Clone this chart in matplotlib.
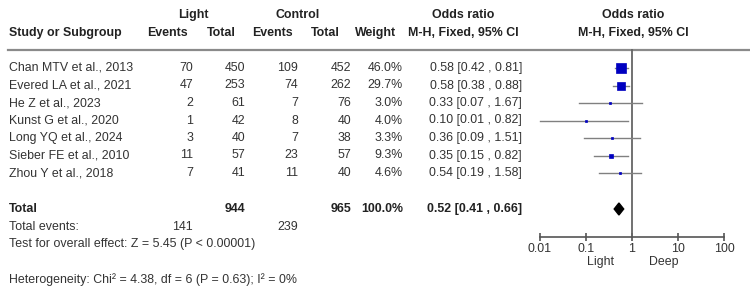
import numpy as np
import matplotlib
matplotlib.use("Agg")
from matplotlib import pyplot as plt
from matplotlib.patches import Polygon

plt.rcParams['font.family'] = ['Liberation Sans', 'DejaVu Sans']

# study data
studies = ["Chan MTV et al., 2013", "Evered LA et al., 2021", "He Z et al., 2023",
           "Kunst G et al., 2020", "Long YQ et al., 2024", "Sieber FE et al., 2010",
           "Zhou Y et al., 2018"]
light_events = [70, 47, 2, 1, 3, 11, 7]
light_total = [450, 253, 61, 42, 40, 57, 41]
ctrl_events = [109, 74, 7, 8, 7, 23, 11]
ctrl_total = [452, 262, 76, 40, 38, 57, 40]
weights = [46.0, 29.7, 3.0, 4.0, 3.3, 9.3, 4.6]
odds = [0.58, 0.58, 0.33, 0.10, 0.36, 0.35, 0.54]
ci_low = [0.42, 0.38, 0.07, 0.01, 0.09, 0.15, 0.19]
ci_high = [0.81, 0.88, 1.67, 0.82, 1.51, 0.82, 1.58]

total_light, total_ctrl = 944, 965
events_light, events_ctrl = 141, 239
pooled = (0.52, 0.41, 0.66)
ticks = [0.01, 0.1, 1, 10, 100]
tick_labels = ["0.01", "0.1", "1", "10", "100"]

txt = '#333333'
fs = 8.9

fig = plt.figure(figsize=(7.5, 2.99), dpi=100)
ax = fig.add_axes([0, 0, 1, 1])
ax.set_xlim(0, 750)
ax.set_ylim(299, 0)
ax.axis('off')

# headers
hb = dict(fontsize=fs, fontweight='bold', color='#222222', va='center', ha='center')
ax.text(193, 15, "Light", **hb)
ax.text(298, 15, "Control", **hb)
ax.text(463, 15, "Odds ratio", **hb)
ax.text(633, 15, "Odds ratio", **hb)
ax.text(9, 33, "Study or Subgroup", fontsize=fs, fontweight='bold', color='#222222', va='center', ha='left')
ax.text(167, 33, "Events", **hb)
ax.text(221, 33, "Total", **hb)
ax.text(272, 33, "Events", **hb)
ax.text(325, 33, "Total", **hb)
ax.text(376, 33, "Weight", **hb)
ax.text(463, 33, "M-H, Fixed, 95% CI", **hb)
ax.text(633, 33, "M-H, Fixed, 95% CI", **hb)
ax.plot([8, 750], [50, 50], color='#8a8a8a', lw=1.6)

row_y = 68 + 17.5 * np.arange(len(studies))
tr = dict(fontsize=fs, color=txt, va='center', ha='right')
for i, y in enumerate(row_y):
    ax.text(9, y, studies[i], fontsize=fs, color=txt, va='center', ha='left')
    ax.text(193, y, str(light_events[i]), **tr)
    ax.text(245, y, str(light_total[i]), **tr)
    ax.text(298, y, str(ctrl_events[i]), **tr)
    ax.text(351, y, str(ctrl_total[i]), **tr)
    ax.text(403, y, f"{weights[i]:.1f}%", **tr)
    ax.text(522, y, f"{odds[i]:.2f} [{ci_low[i]:.2f} , {ci_high[i]:.2f}]", **tr)

ty = 209
bb = dict(fontsize=fs, fontweight='bold', color='#222222', va='center', ha='right')
ax.text(9, ty, "Total", fontsize=fs, fontweight='bold', color='#222222', va='center', ha='left')
ax.text(245, ty, str(total_light), **bb)
ax.text(351, ty, str(total_ctrl), **bb)
ax.text(403, ty, "100.0%", **bb)
ax.text(522, ty, f"{pooled[0]:.2f} [{pooled[1]:.2f} , {pooled[2]:.2f}]", **bb)
ax.text(9, 227, "Total events:", fontsize=fs, color=txt, va='center', ha='left')
ax.text(193, 227, str(events_light), **tr)
ax.text(298, 227, str(events_ctrl), **tr)
ax.text(9, 244, "Test for overall effect: Z = 5.45 (P < 0.00001)", fontsize=fs, color=txt, va='center', ha='left')
ax.text(9, 280, "Heterogeneity: Chi\u00b2 = 4.38, df = 6 (P = 0.63); I\u00b2 = 0%", fontsize=fs, color=txt, va='center', ha='left')
ax.text(601, 262, "Light", fontsize=fs, color=txt, va='center', ha='center')
ax.text(664, 262, "Deep", fontsize=fs, color=txt, va='center', ha='center')

# forest panel
fx = fig.add_axes([540 / 750, 0, 184 / 750, 1])
fx.set_xscale('log')
fx.set_xlim(0.01, 100)
fx.set_ylim(299, 0)
fx.patch.set_alpha(0)
for s in ['left', 'right', 'top']:
    fx.spines[s].set_visible(False)
fx.spines['bottom'].set_position(('data', 237))
fx.spines['bottom'].set_color('#555555')
fx.spines['bottom'].set_linewidth(1.2)
fx.set_yticks([])
fx.set_xticks(ticks)
fx.set_xticklabels(tick_labels)
fx.xaxis.set_minor_locator(matplotlib.ticker.NullLocator())
fx.tick_params(axis='x', direction='inout', length=6, width=1.2, color='#555555',
               labelsize=fs, labelcolor=txt, pad=1)

fx.plot([1, 1], [50, 237], color='#666666', lw=1.3, clip_on=False)
for i, y in enumerate(row_y):
    fx.plot([ci_low[i], ci_high[i]], [y, y], color='#808080', lw=1.0, clip_on=False)
    side = 1.33 * np.sqrt(weights[i]) * 0.72
    fx.plot(odds[i], y, marker='s', ms=side, color='#0000c0', mec='#0000c0', mew=0.5, zorder=3)

dia = Polygon([[pooled[1], ty], [pooled[0], ty - 6], [pooled[2], ty], [pooled[0], ty + 6]],
              closed=True, color='black')
fx.add_patch(dia)

fig.savefig("out.png", dpi=100)
